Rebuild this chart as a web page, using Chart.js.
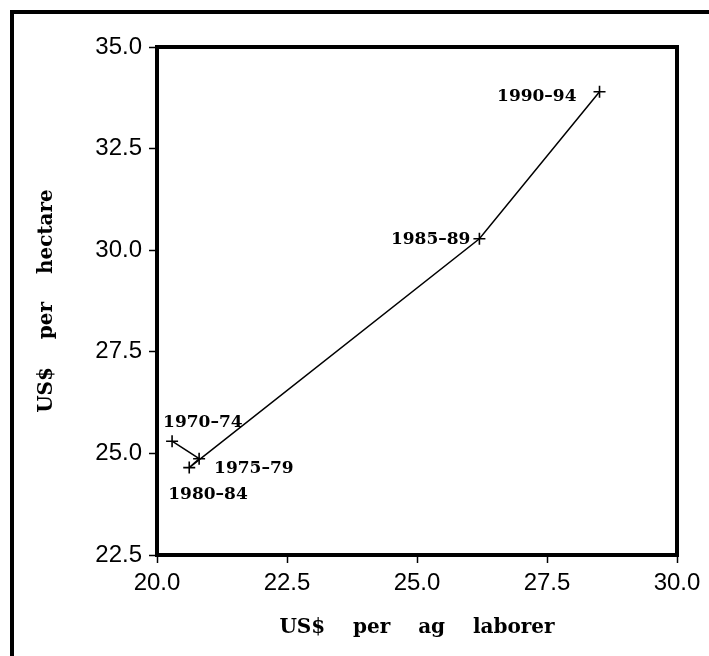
<!DOCTYPE html>
<html>
<head>
<meta charset="utf-8">
<script src="https://cdn.jsdelivr.net/npm/chart.js"></script>
<style>
  html, body { margin: 0; padding: 0; background: #fff; }
  #wrap { width: 709px; height: 656px; }
</style>
</head>
<body>
<div id="wrap"><canvas id="chart" width="709" height="656"></canvas></div>
<script>
  // periods and values
  const periods = ["1970\u201374", "1975\u201379", "1980\u201384", "1985\u201389", "1990\u201394"];
  const perLaborer = [20.29, 20.81, 20.62, 26.20, 28.51];
  const perHectare = [25.30, 24.87, 24.65, 30.28, 33.90];

  const xTicks = [20.0, 22.5, 25.0, 27.5, 30.0];
  const yTicks = [22.5, 25.0, 27.5, 30.0, 32.5, 35.0];

  // label placement relative to each point: [dx, dy, align]
  const labelPlacement = [
    [-9, -14, "left"],
    [15, 14, "left"],
    [-21, 31, "left"],
    [-9, 5, "right"],
    [-23, 9, "right"]
  ];

  const serif = "'DejaVu Serif', serif";
  const sans = "'Liberation Sans', Arial, sans-serif";

  const framePlugin = {
    id: "frames",
    beforeDraw(chart) {
      const ctx = chart.ctx;
      ctx.save();
      ctx.strokeStyle = "#000";
      ctx.lineWidth = 4;
      ctx.beginPath();
      ctx.moveTo(12, 660);
      ctx.lineTo(12, 12);
      ctx.lineTo(712, 12);
      ctx.stroke();
      ctx.restore();
    },
    afterDraw(chart) {
      const a = chart.chartArea;
      const ctx = chart.ctx;
      ctx.save();
      ctx.strokeStyle = "#000";
      ctx.lineWidth = 4;
      ctx.strokeRect(a.left, a.top, a.right - a.left, a.bottom - a.top);
      ctx.restore();
    }
  };

  const pointLabels = {
    id: "pointLabels",
    afterDatasetsDraw(chart) {
      const ctx = chart.ctx;
      const meta = chart.getDatasetMeta(0);
      ctx.save();
      ctx.fillStyle = "#000";
      ctx.font = "bold 17px " + serif;
      ctx.textBaseline = "alphabetic";
      meta.data.forEach((pt, i) => {
        const p = labelPlacement[i];
        ctx.textAlign = p[2];
        ctx.fillText(periods[i], pt.x + p[0], pt.y + p[1]);
      });
      ctx.restore();
    }
  };

  new Chart(document.getElementById("chart"), {
    type: "scatter",
    data: {
      datasets: [
        {
          label: "Productivity",
          data: perLaborer.map((x, i) => ({ x: x, y: perHectare[i] })),
          showLine: true,
          borderColor: "#000",
          borderWidth: 1.5,
          pointStyle: "cross",
          pointRadius: 6,
          pointBorderWidth: 1.6,
          pointBorderColor: "#000",
          pointBackgroundColor: "#000"
        }
      ]
    },
    options: {
      responsive: false,
      animation: false,
      devicePixelRatio: 1,
      layout: { padding: { top: 47, right: 32, left: 0, bottom: 0 } },
      plugins: {
        legend: { display: false },
        tooltip: { enabled: false }
      },
      scales: {
        x: {
          type: "linear",
          position: "bottom",
          min: 20,
          max: 30,
          afterBuildTicks(scale) {
            scale.ticks = xTicks.map(v => ({ value: v }));
          },
          afterFit(scale) {
            scale.height = 101;
          },
          ticks: {
            color: "#000",
            padding: 6,
            maxRotation: 0,
            font: { family: sans, size: 24 },
            callback: v => Number(v).toFixed(1)
          },
          grid: {
            drawOnChartArea: false,
            drawTicks: true,
            tickLength: 8,
            tickWidth: 1.5,
            tickColor: "#000"
          },
          border: { display: true, color: "#000", width: 4 },
          title: {
            display: true,
            text: "US$    per    ag    laborer",
            color: "#000",
            font: { family: serif, size: 20, weight: "bold" },
            padding: { top: 0, bottom: 16 }
          }
        },
        y: {
          type: "linear",
          position: "left",
          min: 22.5,
          max: 35,
          afterBuildTicks(scale) {
            scale.ticks = yTicks.map(v => ({ value: v }));
          },
          afterFit(scale) {
            scale.width = 157;
          },
          ticks: {
            color: "#000",
            padding: 7,
            font: { family: sans, size: 24 },
            callback: v => Number(v).toFixed(1)
          },
          grid: {
            drawOnChartArea: false,
            drawTicks: true,
            tickLength: 8,
            tickWidth: 1.5,
            tickColor: "#000"
          },
          border: { display: true, color: "#000", width: 4 },
          title: {
            display: true,
            text: "US$    per    hectare",
            color: "#000",
            font: { family: serif, size: 20, weight: "bold" },
            padding: { top: 35, bottom: 0 }
          }
        }
      }
    },
    plugins: [framePlugin, pointLabels]
  });
</script>
</body>
</html>
